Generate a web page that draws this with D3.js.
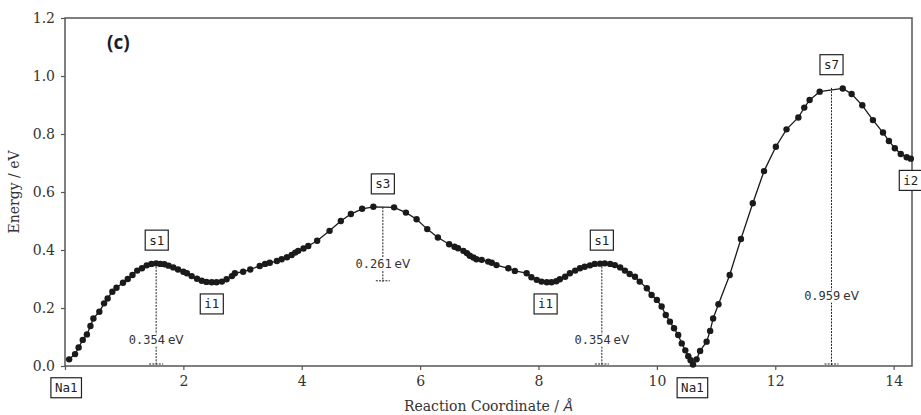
<!DOCTYPE html>
<html>
<head>
<meta charset="utf-8">
<script src="https://cdn.jsdelivr.net/npm/d3@7"></script>
<style>
  html, body { margin: 0; padding: 0; background: #fff; }
  svg { display: block; }
</style>
</head>
<body>
<svg id="chart" width="921" height="415"></svg>
<script>
// ---- Data ----
const coordX = [0.07,0.17,0.23,0.30,0.37,0.43,0.48,0.58,0.66,0.72,0.80,0.87,0.98,1.06,1.14,1.22,1.30,1.38,1.46,1.54,1.61,1.68,1.75,1.83,1.91,2.00,2.06,2.14,2.23,2.31,2.39,2.48,2.56,2.65,2.73,2.82,2.87,3.01,3.13,3.29,3.38,3.46,3.58,3.66,3.75,3.83,3.89,3.94,4.03,4.11,4.26,4.47,4.66,4.83,5.02,5.21,5.56,5.76,5.94,6.12,6.30,6.49,6.58,6.64,6.73,6.79,6.84,6.90,6.95,7.04,7.15,7.21,7.29,7.49,7.60,7.80,7.88,7.97,8.05,8.14,8.22,8.30,8.36,8.45,8.53,8.62,8.70,8.78,8.87,8.95,9.04,9.12,9.21,9.29,9.38,9.46,9.54,9.63,9.71,9.83,9.91,10.00,10.08,10.15,10.22,10.29,10.36,10.42,10.48,10.53,10.57,10.61,10.67,10.73,10.84,10.90,10.95,11.04,11.23,11.42,11.62,11.81,12.01,12.19,12.39,12.49,12.58,12.75,13.14,13.29,13.47,13.65,13.82,13.92,14.02,14.12,14.22,14.29];
const energy = [0.023,0.041,0.064,0.090,0.109,0.138,0.164,0.187,0.216,0.233,0.256,0.270,0.287,0.300,0.314,0.329,0.337,0.347,0.352,0.354,0.352,0.351,0.346,0.340,0.333,0.325,0.320,0.310,0.301,0.294,0.290,0.289,0.289,0.291,0.299,0.310,0.320,0.325,0.333,0.345,0.352,0.356,0.362,0.368,0.375,0.383,0.391,0.397,0.405,0.414,0.432,0.466,0.500,0.524,0.542,0.549,0.547,0.529,0.506,0.472,0.443,0.420,0.411,0.406,0.397,0.389,0.380,0.374,0.368,0.366,0.360,0.356,0.348,0.337,0.328,0.320,0.306,0.297,0.291,0.289,0.289,0.292,0.299,0.308,0.320,0.329,0.337,0.342,0.347,0.352,0.353,0.354,0.352,0.348,0.340,0.329,0.317,0.308,0.291,0.268,0.245,0.228,0.205,0.176,0.153,0.130,0.107,0.078,0.054,0.034,0.020,0.005,0.023,0.052,0.084,0.121,0.164,0.213,0.314,0.438,0.561,0.672,0.756,0.816,0.857,0.891,0.917,0.946,0.957,0.938,0.899,0.848,0.805,0.776,0.751,0.731,0.720,0.715];

// stationary point labels
const labelNames = ["Na1","s1","i1","s3","i1","s1","Na1","s7","i2"];
const labelX     = [0.02, 1.55, 2.48, 5.37, 8.12, 9.07, 10.60, 12.95, 14.29];
const labelE     = [0.0, 0.354, 0.289, 0.548, 0.289, 0.354, 0.0, 0.959, 0.715];
const labelSide  = ["below","above","below","above","below","above","below","above","below"];

// barrier annotations
const barrierX    = [1.54, 5.37, 9.07, 12.95];
const barrierTop  = [0.354, 0.548, 0.354, 0.959];
const barrierBase = [0.0, 0.287, 0.0, 0.0];
const barrierText = ["0.354", "0.261", "0.354", "0.959"];

const xTicks = [0, 2, 4, 6, 8, 10, 12, 14];
const xTickLabels = ["", "2", "4", "6", "8", "10", "12", "14"];
const yTicks = [0.0, 0.2, 0.4, 0.6, 0.8, 1.0, 1.2];

// ---- Layout ----
const svg = d3.select("#chart");
const L = 65, R = 912, T = 18, B = 366;
const x = d3.scaleLinear().domain([0, 14.31]).range([L, R]);
const y = d3.scaleLinear().domain([0, 1.2]).range([B, T]);
const spine = "#555";
const serif = "'DejaVu Serif', serif";
const mono = "'DejaVu Sans Mono', monospace";
const sans = "'DejaVu Sans', sans-serif";

// axes
const xAxis = svg.append("g").attr("transform", `translate(0,${B})`)
  .call(d3.axisBottom(x).tickValues(xTicks).tickFormat((d, i) => xTickLabels[i]).tickSize(4).tickPadding(6));
const yAxis = svg.append("g").attr("transform", `translate(${L},0)`)
  .call(d3.axisLeft(y).tickValues(yTicks).tickFormat(d3.format(".1f")).tickSize(4).tickPadding(6));
[xAxis, yAxis].forEach(g => {
  g.select(".domain").remove();
  g.selectAll(".tick line").attr("stroke", spine).attr("stroke-width", 1.2);
  g.selectAll(".tick text").attr("fill", "#333").style("font-family", serif).style("font-size", "14px");
});
xAxis.selectAll(".tick text").filter(function () { return this.textContent === ""; }).remove();

// frame
svg.append("rect").attr("x", L).attr("y", T).attr("width", R - L).attr("height", B - T)
  .attr("fill", "none").attr("stroke", spine).attr("stroke-width", 1.5);

// axis titles
const xt = svg.append("text").attr("x", (L + R) / 2).attr("y", 411).attr("text-anchor", "middle")
  .style("font-family", serif).style("font-size", "14px").attr("fill", "#333");
xt.append("tspan").text("Reaction Coordinate / ");
xt.append("tspan").text("Å").style("font-style", "italic").style("font-family", "'DejaVu Sans', sans-serif");
svg.append("text").attr("transform", `translate(19,${(T + B) / 2}) rotate(-90)`).attr("text-anchor", "middle")
  .style("font-family", serif).style("font-size", "14px").attr("fill", "#333").text("Energy / eV");

// panel letter
svg.append("text").attr("x", 107).attr("y", 49).text("(c)")
  .style("font-family", "'Open Sans', 'DejaVu Sans', sans-serif").style("font-weight", "bold")
  .style("font-size", "19px").attr("fill", "#1c1c28");

// barrier annotations (drawn under the curve)
const plot = svg.append("g");
barrierX.forEach((bx, i) => {
  const xp = x(bx), yt = y(barrierTop[i]), yb = y(barrierBase[i]);
  plot.append("line").attr("x1", xp).attr("x2", xp).attr("y1", yt).attr("y2", yb - 1)
    .attr("stroke", "#222").attr("stroke-width", 1).attr("stroke-dasharray", "2,1.2");
  plot.append("line").attr("x1", xp - 7).attr("x2", xp + 7).attr("y1", yb - 2).attr("y2", yb - 2)
    .attr("stroke", "#222").attr("stroke-width", 1).attr("stroke-dasharray", "2,1.2");
  const ty = yb - 0.25 * (yb - yt);
  const t = plot.append("text").attr("x", xp).attr("y", ty + 4).attr("text-anchor", "middle").attr("fill", "#333");
  t.append("tspan").text(barrierText[i]).style("font-family", mono).style("font-size", "12px");
  t.append("tspan").text("eV").attr("dx", 3).style("font-family", sans).style("font-size", "12px");
  const bb = t.node().getBBox();
  plot.insert("rect", () => t.node()).attr("x", bb.x - 1).attr("y", bb.y + 1).attr("width", bb.width + 2).attr("height", bb.height - 2).attr("fill", "#fff");
});

// curve
const pts = coordX.map((d, i) => [d, energy[i]]);
svg.append("path").datum(pts).attr("fill", "none").attr("stroke", "#1a1a1a").attr("stroke-width", 1.3)
  .attr("d", d3.line().x(d => x(d[0])).y(d => y(d[1])));
svg.append("g").selectAll("circle").data(pts).join("circle")
  .attr("cx", d => x(d[0])).attr("cy", d => y(d[1])).attr("r", 3.2).attr("fill", "#1a1a1a");

// labels in boxes
labelNames.forEach((n, i) => {
  const off = labelSide[i] === "above" ? 0.08 : -0.075;
  const cx = x(labelX[i]), cy = y(labelE[i] + off);
  const g = svg.append("g");
  const t = g.append("text").attr("x", cx).attr("y", cy + 4.5).attr("text-anchor", "middle")
    .style("font-family", mono).style("font-size", "12.5px").attr("fill", "#222").text(n);
  const bb = t.node().getBBox();
  g.insert("rect", "text").attr("x", cx - bb.width / 2 - 4).attr("y", cy - 10).attr("width", bb.width + 8).attr("height", 20)
    .attr("fill", "#fff").attr("stroke", "#222").attr("stroke-width", 1.2);
});
</script>
</body>
</html>
